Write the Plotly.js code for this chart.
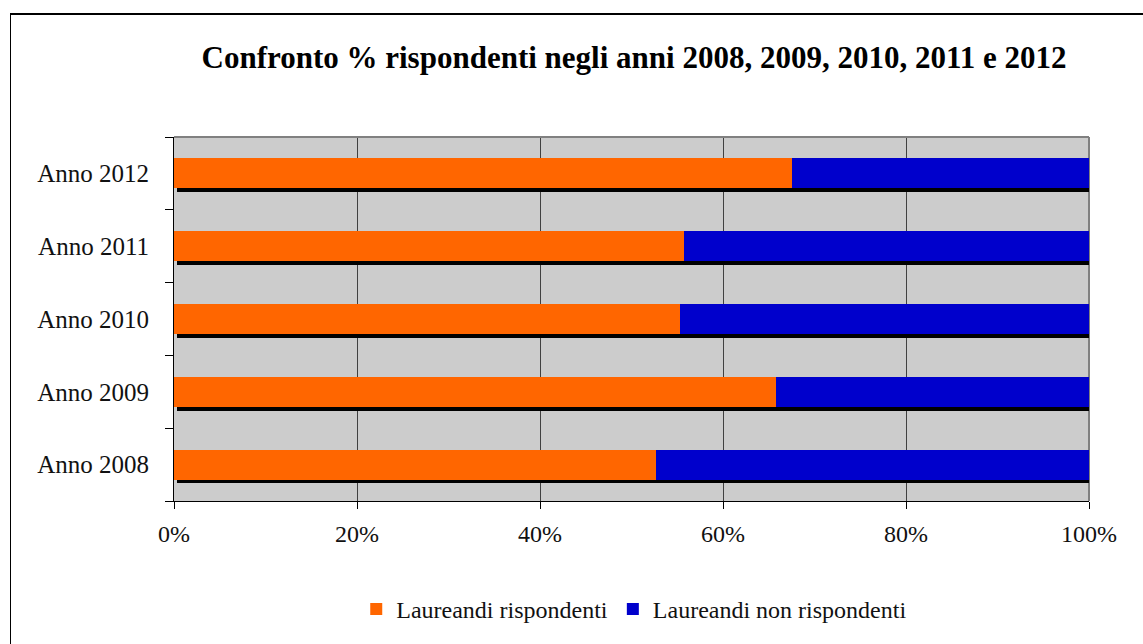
<!DOCTYPE html>
<html>
<head>
<meta charset="utf-8">
<script src="https://cdn.plot.ly/plotly-3.0.1.min.js"></script>
<style>
  html, body { margin: 0; padding: 0; background: #fff; }
  #wrap { position: relative; width: 1143px; height: 644px; }
  #chart { width: 1143px; height: 644px; }
  #frame { position: absolute; left: 10px; top: 13px; right: -2px; bottom: -2px;
           border-top: 2px solid #000; border-left: 1px solid #000; pointer-events: none; }
  #chart text { font-family: "Liberation Serif", "Times New Roman", serif !important; }
</style>
</head>
<body>
<div id="wrap">
  <div id="chart"></div>
  <div id="frame"></div>
</div>
<script>
// ---- data ----
const categories = ["Anno 2008", "Anno 2009", "Anno 2010", "Anno 2011", "Anno 2012"];
const rispondenti = [52.7, 65.8, 55.3, 55.7, 67.5];
const nonRispondenti = [47.3, 34.2, 44.7, 44.3, 32.5];
const seriesNames = ["Laureandi rispondenti", "Laureandi non rispondenti"];
const xTickVals = [0, 20, 40, 60, 80, 100];
const xTickText = ["0%", "20%", "40%", "60%", "80%", "100%"];
const titleText = "Confronto % rispondenti negli anni 2008, 2009, 2010, 2011 e 2012";

// ---- geometry helpers (pixel offsets for the bar shadow) ----
const plotW = 915, plotH = 372;
const shadowDx = 3, shadowDy = 4;
const dxUnits = shadowDx / plotW * 100;
const dyUnits = shadowDy / plotH * 5;

const totals = rispondenti.map((v, i) => v + nonRispondenti[i]);
const font = "Liberation Serif";

const barWidth = 0.41;

const traces = [
  { // shadow (main axes, shifted ranges)
    type: "bar", orientation: "h", y: categories, x: totals,
    xaxis: "x", yaxis: "y", width: barWidth,
    marker: { color: "#000000", line: { width: 0 } },
    showlegend: false, hoverinfo: "skip"
  },
  {
    type: "bar", orientation: "h", y: categories, x: rispondenti, name: seriesNames[0],
    xaxis: "x2", yaxis: "y2", width: barWidth,
    marker: { color: "#FF6600", line: { width: 0 } }
  },
  {
    type: "bar", orientation: "h", y: categories, x: nonRispondenti, name: seriesNames[1],
    xaxis: "x2", yaxis: "y2", width: barWidth,
    marker: { color: "#0000CC", line: { width: 0 } }
  }
];

const layout = {
  width: 1143, height: 644,
  margin: { l: 174, r: 54, t: 137, b: 135 },
  paper_bgcolor: "#ffffff",
  plot_bgcolor: "#cccccc",
  barmode: "stack",
  font: { family: font, size: 24, color: "#111" },
  title: {
    text: "<b>" + titleText + "</b>",
    font: { family: font, size: 31, color: "#000" },
    xref: "container", yref: "container",
    x: 634 / 1143, xanchor: "center",
    y: 1 - 57 / 644, yanchor: "middle"
  },
  xaxis: {
    range: [-dxUnits, 100 - dxUnits], showgrid: false, showticklabels: false,
    zeroline: false, showline: false, ticks: "", fixedrange: true
  },
  yaxis: {
    type: "category", categoryorder: "array", categoryarray: categories,
    range: [-0.5 + dyUnits, 4.5 + dyUnits],
    showgrid: false, showticklabels: false, zeroline: false, showline: false, ticks: ""
  },
  xaxis2: {
    overlaying: "x", anchor: "y2", side: "bottom",
    range: [0, 100], tickvals: xTickVals, ticktext: xTickText,
    showgrid: true, gridcolor: "#404040", gridwidth: 1,
    zeroline: false, showline: true, linecolor: "#000", linewidth: 1,
    ticks: "outside", ticklen: 7, tickcolor: "#000", tickwidth: 1,
    tickfont: { family: font, size: 24, color: "#111" },
    ticklabelstandoff: 4
  },
  yaxis2: {
    overlaying: "y", anchor: "x2", side: "left",
    type: "category", categoryorder: "array", categoryarray: categories,
    range: [-0.5, 4.5],
    showgrid: false, zeroline: false,
    showline: true, linecolor: "#000", linewidth: 1,
    ticks: "outside", tickson: "boundaries", ticklen: 8, tickcolor: "#000", tickwidth: 1,
    tickfont: { family: font, size: 25, color: "#111" },
    ticklabelstandoff: 19
  },
  shapes: [
    { type: "line", xref: "paper", yref: "paper", x0: 0, x1: 1, y0: 1, y1: 1,
      line: { color: "#808080", width: 2 }, layer: "above" },
    { type: "line", xref: "paper", yref: "paper", x0: 1, x1: 1, y0: 0, y1: 1,
      line: { color: "#808080", width: 2 }, layer: "below" }
  ],
  legend: {
    orientation: "h", x: 0.503, xanchor: "center", y: -0.298, yanchor: "middle",
    font: { family: font, size: 24, color: "#111" },
    bgcolor: "rgba(0,0,0,0)", traceorder: "normal", itemwidth: 30
  },
  showlegend: true,
  bargap: 0.6
};

Plotly.newPlot("chart", traces, layout, { displayModeBar: false, staticPlot: true });
</script>
</body>
</html>
